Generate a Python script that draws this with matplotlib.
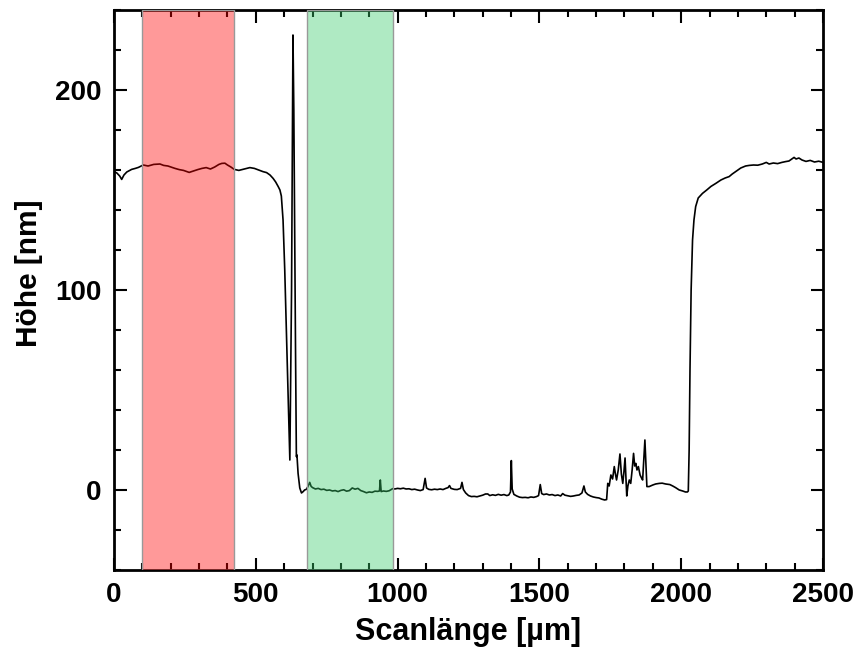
import matplotlib
matplotlib.use("Agg")
import matplotlib.pyplot as plt
from matplotlib.ticker import MultipleLocator

plt.rcParams["font.family"] = ["Liberation Sans", "DejaVu Sans"]
plt.rcParams["font.weight"] = "bold"

# profile (x in µm, y in nm)
scan_x = [0, 10, 20, 27, 35, 45, 62, 75, 86, 103, 120, 140, 162, 175, 190, 200, 215, 230, 245, 265,
          280, 295, 310, 325, 340, 355, 370, 380, 391, 400, 412, 424, 440, 460, 479, 495, 510, 525,
          538, 550, 561, 570, 579, 585, 590, 596, 602, 608, 614, 620, 626, 631, 634, 637, 640, 643,
          645, 649, 655, 661, 667, 672, 678, 683, 690, 695, 700, 710, 720, 730, 740, 750, 760, 770,
          780, 790, 800, 810, 820, 830, 840, 850, 860, 870, 880, 890, 900, 910, 920, 930, 936, 939,
          942, 950, 960, 970, 983, 990, 1000, 1010, 1020, 1030, 1040, 1050, 1060, 1070, 1080, 1090,
          1097, 1102, 1110, 1120, 1130, 1140, 1150, 1160, 1170, 1178, 1183, 1188, 1200, 1210, 1222,
          1227, 1232, 1240, 1250, 1260, 1270, 1280, 1290, 1300, 1310, 1318, 1325, 1335, 1345, 1355,
          1365, 1375, 1385, 1392, 1398, 1401, 1404, 1410, 1420, 1430, 1440, 1450, 1460, 1470, 1480,
          1490, 1497, 1503, 1508, 1515, 1525, 1535, 1545, 1555, 1565, 1575, 1582, 1590, 1600, 1610,
          1620, 1630, 1640, 1650, 1657, 1662, 1670, 1680, 1690, 1700, 1710, 1720, 1730, 1737, 1741,
          1746, 1752, 1758, 1764, 1768, 1772, 1778, 1784, 1789, 1794, 1798, 1802, 1805, 1808, 1812,
          1817, 1822, 1827, 1832, 1836, 1840, 1844, 1849, 1855, 1860, 1864, 1872, 1879, 1887, 1900,
          1910, 1923, 1933, 1945, 1960, 1970, 1980, 1993, 2005, 2015, 2022, 2025, 2028, 2031, 2035,
          2040, 2045, 2051, 2060, 2075, 2090, 2105, 2122, 2140, 2155, 2169, 2180, 2192, 2210, 2227,
          2240, 2255, 2270, 2286, 2300, 2310, 2325, 2340, 2355, 2368, 2380, 2390, 2398, 2405, 2415,
          2426, 2440, 2455, 2470, 2485, 2500]
height = [159.2, 158.5, 157, 155.3, 157.5, 159, 160.3, 160.8, 161.3, 162.5, 162, 162.8, 163, 162.3,
          162, 161.5, 160.8, 160.2, 159.8, 158.8, 159.5, 160.2, 160.8, 161.2, 160.5, 161.5, 162.8,
          163.3, 163.4, 162.5, 161.5, 160.3, 159.8, 160.5, 161.2, 160.8, 160, 159.2, 158.7, 157.5,
          155.8, 154, 151.7, 150, 147, 135, 110, 78, 45, 15, 100, 227.5, 190, 128, 70, 16.7, 17.5,
          8.3, 1, -1.5, -0.8, 0, 0.3, 1.5, 3.8, 1.8, 1.2, 0.5, 0.8, 0.2, 0.4, -0.2, 0, -0.5, -0.3,
          -0.8, -0.2, 0.1, -0.6, -0.3, 1.0, 0.4, 0.8, -0.3, -0.8, -1.4, -1.0, -1.2, -0.6, -0.7, -0.5,
          5, -0.8, -0.5, -0.7, -0.4, 0.7, 0.5, 0.8, 0.6, 0.9, 0.5, 0.6, 0.2, 0.4, 0, -0.3, 0.2, 5.8,
          1.0, 0.3, 0.1, 0.4, 0.2, 0.5, 0.2, 0.8, 1.2, 2.2, 0.8, 0.3, 0.2, 0.8, 3.8, 0.2, -1.5, -2.8,
          -3.3, -3.2, -3.4, -3.0, -2.6, -2.0, -2.0, -2.8, -2.4, -2.7, -2.2, -2.6, -2.3, -2.8, -2.5,
          -1, 14.7, 0.5, -2.2, -3.0, -3.6, -3.8, -3.7, -3.9, -3.5, -3.7, -3.3, -2.8, 2.7, -1.8, -2.3,
          -2.0, -2.5, -2.3, -2.8, -2.5, -3.0, -1.8, -2.6, -2.9, -3.2, -3.0, -2.7, -2.5, -1.5, 2.0,
          -1.0, -2.2, -3.0, -3.5, -3.8, -4.0, -4.6, -5.0, -4.8, 3.3, 2.0, 7.5, 5.5, 11.7, 8, 5.0, 10,
          18, 8, 3.3, 9, 16, 6, -3, 2, 5.0, 3.3, 10, 18.3, 12, 13.3, 10, 11.7, 7.5, 6, 5.0, 25, 1.7,
          1.7, 2.5, 3.0, 3.3, 3.4, 3.0, 2.7, 2.0, 1.2, 0, -0.5, -1.0, -1.0, -0.5, 20, 60, 100, 125,
          135, 141.7, 146, 148.3, 150, 151.8, 153.3, 155, 156, 156.7, 158, 159.2, 161, 162, 162.3,
          162.5, 162.4, 163, 163.8, 163, 163.5, 163.2, 163.8, 164.2, 164.5, 165.5, 166.3, 165.5, 166,
          165, 164.3, 164.8, 164, 164.4, 163.8]

red_range = (100, 422)
green_range = (680, 983)

fig = plt.figure(figsize=(8.58, 6.59), dpi=100)
ax = fig.add_axes([0.1329, 0.1351, 0.8263, 0.8497])

ax.plot(scan_x, height, color="black", lw=1.2, zorder=2)
ax.axvspan(*red_range, facecolor=(1.0, 0.0, 0.0, 0.4), edgecolor="#999999", lw=1.0, zorder=3)
ax.axvspan(*green_range, facecolor=(0.22, 0.80, 0.42, 0.4), edgecolor="#999999", lw=1.0, zorder=3)

ax.set_xlim(0, 2500)
ax.set_ylim(-40, 240)
ax.xaxis.set_major_locator(MultipleLocator(500))
ax.xaxis.set_minor_locator(MultipleLocator(100))
ax.yaxis.set_major_locator(MultipleLocator(100))
ax.yaxis.set_minor_locator(MultipleLocator(20))
ax.tick_params(which="both", direction="in", top=True, right=True, width=1.5, labelsize=20)
ax.tick_params(which="major", length=9, pad=9)
ax.tick_params(which="minor", length=5)
for s in ax.spines.values():
    s.set_linewidth(2)

ax.set_xlabel("Scanlänge [µm]", fontsize=22, fontweight="bold", labelpad=6)
ax.set_ylabel("Höhe [nm]", fontsize=21.5, fontweight="bold")
ax.yaxis.set_label_coords(-0.100, 0.53)

fig.savefig("out.png", dpi=100)
